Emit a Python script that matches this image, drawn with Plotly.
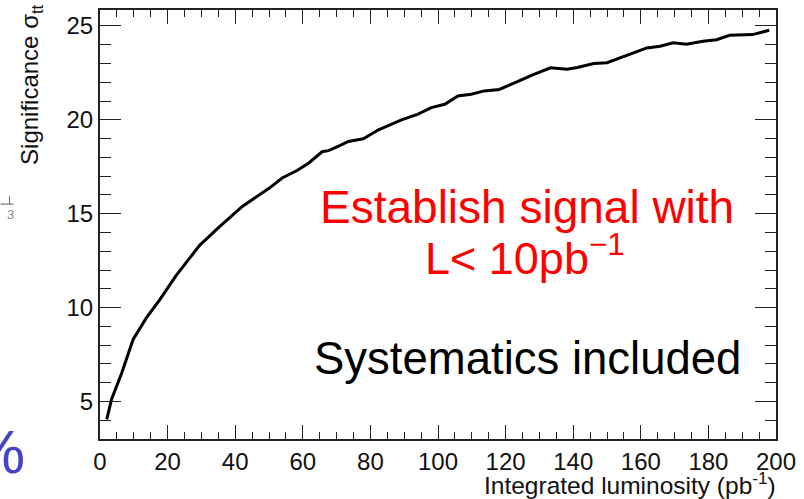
import plotly.graph_objects as go

# Significance of the ttbar signal as a function of integrated luminosity
luminosity = [2, 3.4, 6.4, 9.8, 13.7, 17.6, 22.5, 29.4, 35.3, 42.2, 50, 53.9, 58.3,
              61.8, 65.7, 67.6, 70.6, 73.5, 77.9, 82.4, 89.2, 94.1, 98, 102, 105.9,
              109.8, 113.7, 118.1, 123.5, 128, 133.3, 138.2, 141.2, 146.1, 150,
              154.9, 161.8, 165.7, 169.6, 173.5, 178.4, 182.4, 186.3, 193.1, 198]
significance = [4.05, 5.1, 6.5, 8.3, 9.45, 10.4, 11.7, 13.3, 14.3, 15.4, 16.35, 16.9, 17.3,
                17.7, 18.3, 18.36, 18.6, 18.85, 18.99, 19.47, 20.0, 20.3, 20.65, 20.83, 21.27,
                21.36, 21.54, 21.62, 22.03, 22.4, 22.77, 22.7, 22.79, 23.0, 23.04,
                23.36, 23.83, 23.92, 24.1, 24.03, 24.19, 24.27, 24.5, 24.54, 24.77]

x_range = [0, 200]
y_range = [3.0, 25.85]
x_ticks = [0, 20, 40, 60, 80, 100, 120, 140, 160, 180, 200]
y_ticks = [5, 10, 15, 20, 25]

FONT = "Liberation Sans, Arial, Helvetica, sans-serif"
W, H = 804, 499
ML, MR, MT, MB = 100, 24, 8, 60
PW, PH = W - ML - MR, H - MT - MB


def px_x(p):
    return (p - ML) / PW


def px_y(p):
    return (H - MB - p) / PH


fig = go.Figure()
fig.add_trace(go.Scatter(
    x=luminosity, y=significance, mode="lines",
    line=dict(color="black", width=3), hoverinfo="skip", showlegend=False,
))

axis_common = dict(
    showline=True, linecolor="#222", linewidth=2, mirror="ticks",
    ticks="inside", tickcolor="#222", tickwidth=1.3,
    showgrid=False, zeroline=False,
    tickfont=dict(family=FONT, size=24, color="#111"),
)

fig.update_xaxes(
    range=x_range, tickvals=x_ticks, ticklen=14,
    minor=dict(ticks="inside", dtick=5, ticklen=7, tickcolor="#222", tickwidth=1.3, showgrid=False),
    **axis_common,
)
fig.update_yaxes(
    range=y_range, tickvals=y_ticks, ticklen=21,
    minor=dict(ticks="inside", dtick=1, ticklen=11, tickcolor="#222", tickwidth=1.3, showgrid=False),
    **axis_common,
)

annotations = [
    # axis titles
    dict(text="Significance σ<sub>tt</sub>", textangle=-90, xref="paper", yref="paper",
         x=px_x(31), y=px_y(0), xanchor="center", yanchor="top", showarrow=False,
         font=dict(family=FONT, size=24, color="#111")),
    dict(text="Integrated luminosity (pb<sup>-1</sup>)", xref="paper", yref="paper",
         x=px_x(782), y=px_y(501), xanchor="right", yanchor="bottom", showarrow=False,
         font=dict(family=FONT, size=24.5, color="#111")),
    # statements on the plot
    dict(text="Establish signal with", xref="paper", yref="paper",
         x=px_x(530), y=px_y(206), xanchor="center", yanchor="middle", showarrow=False,
         font=dict(family=FONT, size=46, color="#ff0000")),
    dict(text="L&lt; 10pb<sup>−1</sup>", xref="paper", yref="paper",
         x=px_x(528), y=px_y(254), xanchor="center", yanchor="middle", showarrow=False,
         font=dict(family=FONT, size=45, color="#ff0000")),
    dict(text="Systematics included", xref="paper", yref="paper",
         x=px_x(530), y=px_y(358), xanchor="center", yanchor="middle", showarrow=False,
         font=dict(family=FONT, size=45.5, color="#000")),
    # fragments at the left edge
    dict(text="3", xref="paper", yref="paper",
         x=px_x(10), y=px_y(213), xanchor="center", yanchor="middle", showarrow=False,
         font=dict(family=FONT, size=13, color="#888")),
    dict(text="%", xref="paper", yref="paper",
         x=px_x(27), y=px_y(452), xanchor="right", yanchor="middle", showarrow=False,
         font=dict(family=FONT, size=62, color="#4444c4")),
]

shapes = [
    dict(type="line", xref="paper", yref="paper", x0=px_x(0), x1=px_x(13),
         y0=px_y(203), y1=px_y(203), line=dict(color="#777", width=1.2)),
    dict(type="line", xref="paper", yref="paper", x0=px_x(9), x1=px_x(9),
         y0=px_y(195), y1=px_y(203), line=dict(color="#777", width=1.2)),
]

fig.update_layout(
    width=W, height=H,
    margin=dict(l=ML, r=MR, t=MT, b=MB),
    paper_bgcolor="white", plot_bgcolor="white",
    annotations=annotations, shapes=shapes,
)

fig.write_html("out.html")
